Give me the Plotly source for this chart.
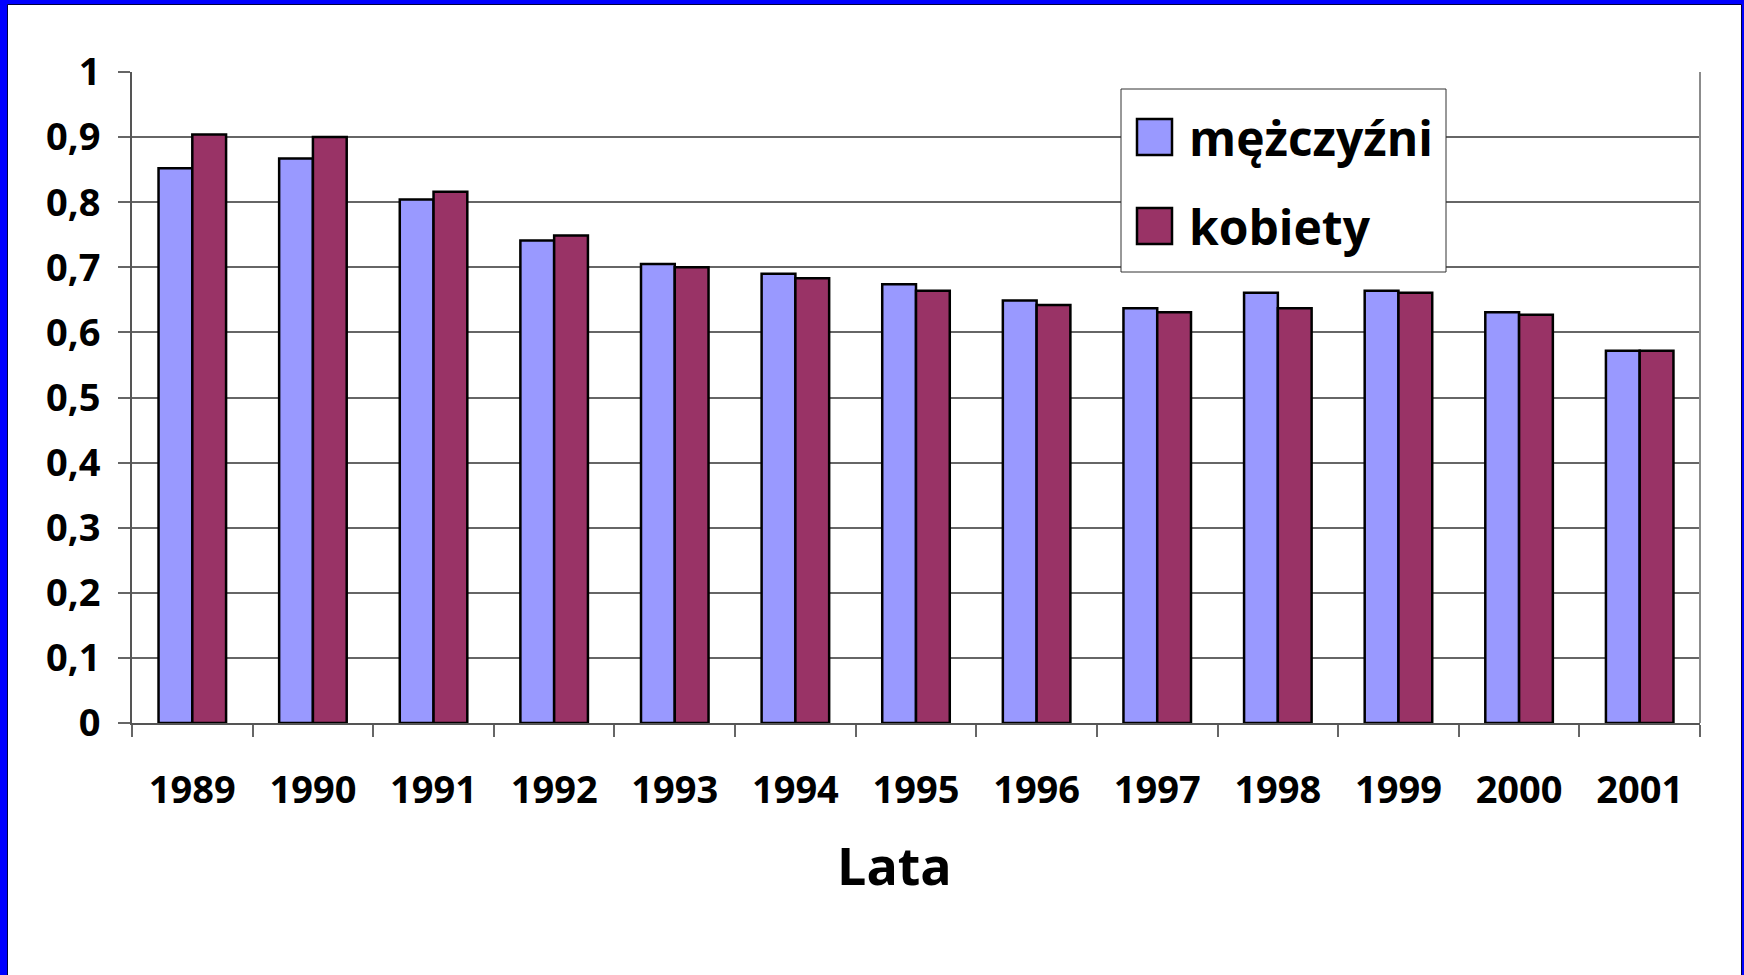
import plotly.graph_objects as go

years = ["1989", "1990", "1991", "1992", "1993", "1994", "1995",
         "1996", "1997", "1998", "1999", "2000", "2001"]
men = [0.852, 0.867, 0.804, 0.741, 0.705, 0.690, 0.674,
       0.649, 0.637, 0.661, 0.664, 0.631, 0.572]
women = [0.904, 0.900, 0.816, 0.749, 0.700, 0.683, 0.664,
         0.642, 0.631, 0.637, 0.661, 0.627, 0.572]
series_names = ["mężczyźni", "kobiety"]
series_colors = ["#9999FF", "#993366"]
y_tickvals = [0, 0.1, 0.2, 0.3, 0.4, 0.5, 0.6, 0.7, 0.8, 0.9, 1.0]
y_ticktext = ["0", "0,1", "0,2", "0,3", "0,4", "0,5", "0,6", "0,7", "0,8", "0,9", "1"]
x_title = "Lata"

FONT = "Comic Sans MS, Open Sans, sans-serif"
W, H = 1744, 975
L, R, T, B = 132, 44, 72, 252
PW, PH = W - L - R, H - T - B


def px(x):
    return (x - L) / PW


def py(y):
    return (H - B - y) / PH


fig = go.Figure()
for name, vals, col in zip(series_names, [men, women], series_colors):
    fig.add_trace(go.Bar(
        x=years, y=vals, name=name,
        marker=dict(color=col, line=dict(color="#000000", width=2.5)),
        showlegend=False,
    ))

shapes = []
annotations = []

# right plot border
shapes.append(dict(type="line", xref="paper", yref="paper", x0=1, x1=1, y0=0, y1=1,
                   line=dict(color="#8c8c8c", width=2), layer="above"))

# custom legend
shapes.append(dict(type="rect", xref="paper", yref="paper",
                   x0=px(1121), x1=px(1446), y0=py(272), y1=py(89),
                   fillcolor="white", line=dict(color="#333333", width=1), layer="above"))
sq_tops = [119, 208]
for i, (name, col) in enumerate(zip(series_names, series_colors)):
    t = sq_tops[i]
    shapes.append(dict(type="rect", xref="paper", yref="paper",
                       x0=px(1137), x1=px(1172), y0=py(t + 36), y1=py(t),
                       fillcolor=col, line=dict(color="#000000", width=2.5), layer="above"))
    annotations.append(dict(text="<b>%s</b>" % name, xref="paper", yref="paper",
                            x=px(1187), y=py(t + 18), xanchor="left", yanchor="middle",
                            showarrow=False, font=dict(family=FONT, size=48, color="black")))

# x axis title
annotations.append(dict(text="<b>%s</b>" % x_title, xref="paper", yref="paper",
                        x=px(894), y=py(864), xanchor="center", yanchor="middle",
                        showarrow=False, font=dict(family=FONT, size=52, color="black")))

# blue frame
blue = "#0000FF"
shapes.append(dict(type="rect", xref="paper", yref="paper",
                   x0=px(-5), x1=px(7.5), y0=py(H + 5), y1=py(-5),
                   fillcolor=blue, line=dict(width=0), layer="above"))
shapes.append(dict(type="rect", xref="paper", yref="paper",
                   x0=px(-5), x1=px(W + 5), y0=py(4.5), y1=py(-5),
                   fillcolor=blue, line=dict(width=0), layer="above"))
shapes.append(dict(type="rect", xref="paper", yref="paper",
                   x0=px(1741.5), x1=px(W + 5), y0=py(H + 5), y1=py(-5),
                   fillcolor=blue, line=dict(width=0), layer="above"))
shapes.append(dict(type="rect", xref="paper", yref="paper",
                   x0=px(7.5), x1=px(1741.5), y0=py(H + 5), y1=py(4.5),
                   fillcolor="rgba(0,0,0,0)", line=dict(color="#000040", width=1), layer="above"))

fig.update_layout(
    width=W, height=H,
    margin=dict(l=L, r=R, t=T, b=B, autoexpand=False),
    paper_bgcolor="white", plot_bgcolor="white",
    barmode="group", bargap=0.44, bargroupgap=0,
    font=dict(family=FONT, color="black"),
    shapes=shapes, annotations=annotations,
    hovermode=False,
    xaxis=dict(
        type="category", tickson="boundaries", ticks="outside", ticklen=12,
        tickwidth=1.5, tickcolor="#666666",
        showline=True, linecolor="#555555", linewidth=2,
        showgrid=False, zeroline=False,
        tickfont=dict(family=FONT, size=38, color="black", weight="bold"),
        ticklabelstandoff=32,
    ),
    yaxis=dict(
        range=[0, 1], tickvals=y_tickvals, ticktext=y_ticktext,
        ticks="outside", ticklen=12, tickwidth=1.5, tickcolor="#666666",
        showline=True, linecolor="#555555", linewidth=2,
        showgrid=True, gridcolor="#666666", gridwidth=1.5, zeroline=False,
        tickfont=dict(family=FONT, size=38, color="black", weight="bold"),
        ticklabelstandoff=10,
    ),
)

fig.write_html("out.html",
               config={"displayModeBar": False},
               post_script="document.body.style.margin='0';document.body.style.overflow='hidden';")
